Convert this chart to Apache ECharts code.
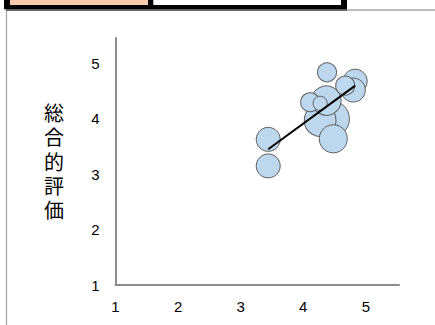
<!DOCTYPE html>
<html>
<head>
<meta charset="utf-8">
<script src="https://cdn.jsdelivr.net/npm/echarts@6/dist/echarts.min.js"></script>
<style>
html,body{margin:0;padding:0;background:#fff;}
#c{width:435px;height:325px;}
</style>
</head>
<body>
<div id="c"></div>
<script>
// data
const xVals = [3.44, 3.44, 4.38, 4.83, 4.67, 4.80, 4.11, 4.37, 4.27, 4.45, 4.27, 4.48];
const yVals = [3.63, 3.15, 4.84, 4.68, 4.60, 4.52, 4.30, 4.33, 4.28, 4.00, 3.97, 3.64];
const sizes = [4, 4, 2.5, 4, 2.5, 4, 2.5, 6, 1.4, 9, 7, 5.5];
const trendX = [3.44, 4.83];
const trendY = [3.45, 4.60];
const tickLabels = ['1', '2', '3', '4', '5'];
const yTitle = '総合的評価';

const pts = xVals.map((x, i) => [x, yVals[i], sizes[i]]);
// larger bubbles drawn first
pts.sort((a, b) => b[2] - a[2]);

const chart = echarts.init(document.getElementById('c'), null, {renderer: 'svg'});
const axisFont = {color: '#000', fontSize: 15, fontFamily: 'Liberation Sans, Arial, sans-serif'};

const titleChars = yTitle.split('').map((ch, i) => ({
  type: 'text', left: 44, top: 104 + i * 24.3,
  style: {text: ch, fill: '#000', font: '20px "Liberation Sans", "Noto Sans CJK JP", sans-serif'}
}));

chart.setOption({
  animation: false,
  grid: {left: 115.5, right: 36, top: 38, bottom: 40, containLabel: false},
  xAxis: {
    type: 'value', min: 1, max: 5.53, interval: 1,
    axisLine: {show: true, lineStyle: {color: '#8c8c8c', width: 2}},
    axisTick: {show: false},
    splitLine: {show: false},
    axisLabel: Object.assign({margin: 14, showMaxLabel: false,
      formatter: v => tickLabels[Math.round(v) - 1] || ''}, axisFont)
  },
  yAxis: {
    type: 'value', min: 1, max: 5.46, interval: 1,
    axisLine: {show: true, lineStyle: {color: '#8c8c8c', width: 2}},
    axisTick: {show: false},
    splitLine: {show: false},
    axisLabel: Object.assign({margin: 16, showMaxLabel: false, padding: [6, 0, 0, 0],
      formatter: v => tickLabels[Math.round(v) - 1] || ''}, axisFont)
  },
  series: [
    {
      type: 'scatter',
      data: pts,
      symbolSize: v => Math.sqrt(v[2]) * 12,
      itemStyle: {color: '#bdd7ee', borderColor: '#5f5f5f', borderWidth: 1, opacity: 1},
      emphasis: {disabled: true},
      z: 2
    },
    {
      type: 'line',
      data: trendX.map((x, i) => [x, trendY[i]]),
      symbol: 'none',
      lineStyle: {color: '#000', width: 2},
      z: 5
    }
  ],
  graphic: [
    {type: 'line', shape: {x1: 6.5, y1: 10, x2: 6.5, y2: 325}, style: {stroke: '#a6a6a6', lineWidth: 1.3}},
    {type: 'line', shape: {x1: 6, y1: 10, x2: 435, y2: 10}, style: {stroke: '#a6a6a6', lineWidth: 1.3}},
    {type: 'rect', shape: {x: 4, y: 0, width: 343, height: 9.3}, style: {fill: '#000'}},
    {type: 'line', shape: {x1: 6, y1: 10, x2: 347, y2: 10}, style: {stroke: '#4d4d4d', lineWidth: 1.3}},
    {type: 'rect', shape: {x: 10, y: 0, width: 138, height: 5}, style: {fill: '#f8cbad'}},
    {type: 'rect', shape: {x: 153.3, y: 0, width: 187.7, height: 5}, style: {fill: '#ffffff'}}
  ].concat(titleChars)
});
</script>
</body>
</html>
